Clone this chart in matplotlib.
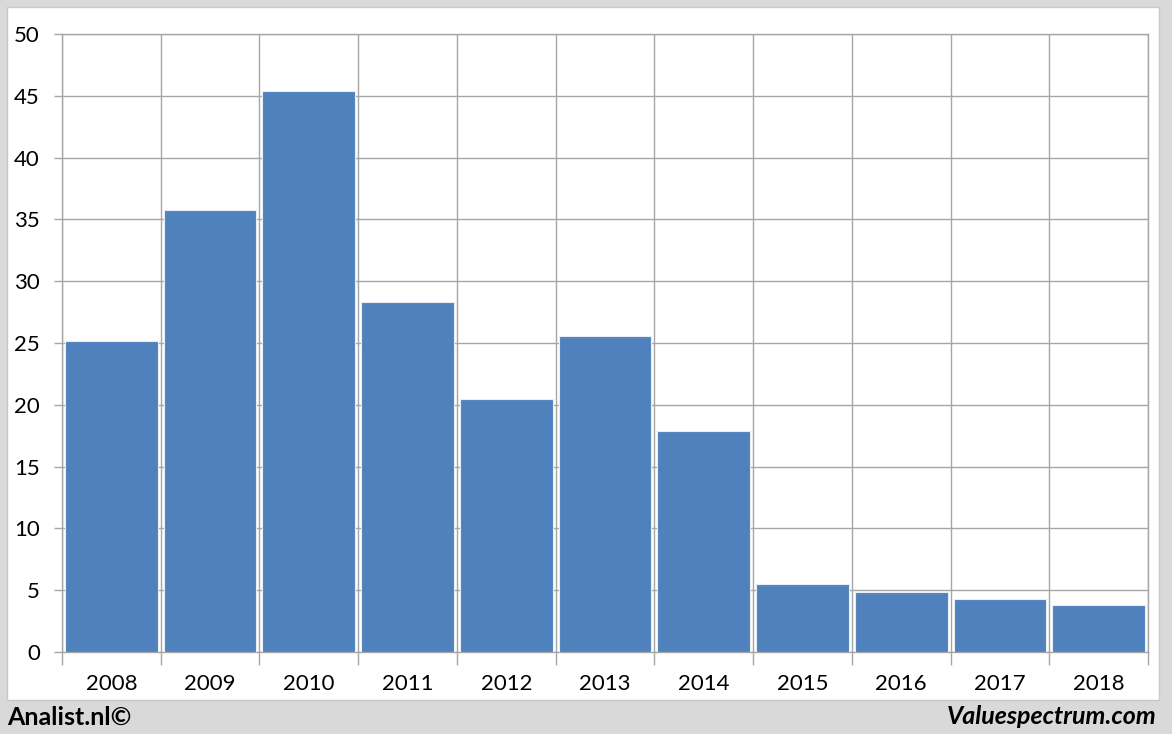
import numpy as np
import matplotlib.pyplot as plt
from matplotlib.patches import Rectangle

# data
years = ['2008', '2009', '2010', '2011', '2012', '2013', '2014', '2015', '2016', '2017', '2018']
values = [25.2, 35.8, 45.4, 28.3, 20.5, 25.6, 17.9, 5.5, 4.85, 4.3, 3.8]
yticks = [0, 5, 10, 15, 20, 25, 30, 35, 40, 45, 50]

plt.rcParams['font.family'] = ['Lato', 'DejaVu Sans']
grid_c = '#A6A6A6'

fig = plt.figure(figsize=(11.72, 7.34), dpi=100, facecolor='#D9D9D9')
# white panel
fig.patches.append(Rectangle((7 / 1172, 1 - 700 / 734), (1159 - 7) / 1172, (700 - 7) / 734,
                             transform=fig.transFigure, facecolor='white',
                             edgecolor='#C8C8C8', lw=1, zorder=-5))

ax = fig.add_axes([62 / 1172, 82 / 734, (1148 - 62) / 1172, (652 - 34) / 734])
ax.set_facecolor('white')
x = np.arange(len(years))
ax.bar(x, values, width=0.94, color='#4F81BD', edgecolor='#E8EEF6', lw=0.8, zorder=3)

ax.set_xlim(-0.5, len(years) - 0.5)
ax.set_ylim(0, 50)
ax.set_yticks(yticks)
ax.set_xticks(np.arange(len(years) + 1) - 0.5)
ax.set_xticklabels([])
ax.set_xticks(x, minor=True)
ax.set_xticklabels(years, minor=True)
ax.tick_params(axis='x', which='major', length=9, color=grid_c, width=1)
ax.tick_params(axis='x', which='minor', length=0, pad=16, labelsize=16)
ax.tick_params(axis='y', length=6, color=grid_c, width=1, labelsize=16, pad=10)
ax.grid(True, which='major', color=grid_c, lw=1, zorder=0)
ax.set_axisbelow(True)
for s in ax.spines.values():
    s.set_color(grid_c)
    s.set_linewidth(1)

fig.text(7 / 1172, 1 - 717 / 734, 'Analist.nl©', fontsize=18, fontweight='bold',
         ha='left', va='center', color='black')
fig.text(1157 / 1172, 1 - 717 / 734, 'Valuespectrum.com', fontsize=18, fontweight='bold',
         fontstyle='italic', ha='right', va='center', color='black')

fig.savefig('out.png', dpi=100, facecolor=fig.get_facecolor())
